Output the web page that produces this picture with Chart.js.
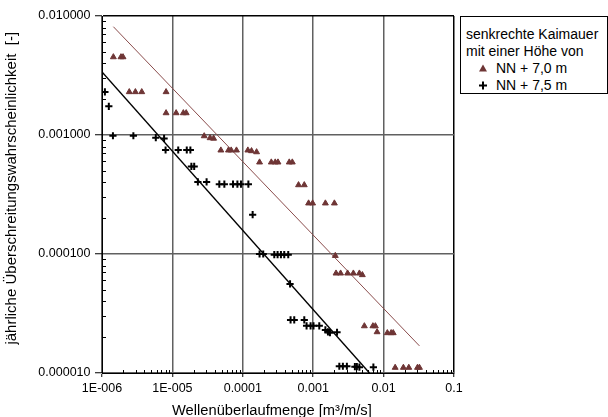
<!DOCTYPE html>
<html>
<head>
<meta charset="utf-8">
<script src="https://cdn.jsdelivr.net/npm/chart.js@4"></script>
<style>
  html, body { margin:0; padding:0; background:#fff; }
  #wrap { position:relative; width:608px; height:417px; }
  #legend { position:absolute; left:460px; top:16px; border:1px solid #000;
            font-family:'Liberation Sans', Arial, sans-serif; font-size:14px; line-height:17px; color:#000;
            padding:9px 0 0 5px; box-sizing:border-box; width:148px; height:78px; background:#fff; }
  .row { position:relative; height:17px; white-space:nowrap; }
  .mk { position:absolute; left:11px; top:0; width:12px; height:17px; }
  .txt { position:absolute; left:30px; top:0; }
</style>
</head>
<body>
<div id="wrap">
  <canvas id="c" width="608" height="417"></canvas>
  <div id="legend">
    <div class="row">senkrechte Kaimauer</div>
    <div class="row">mit einer Höhe von</div>
    <div class="row"><canvas class="mk" id="mk1" width="12" height="17"></canvas><span class="txt">NN + 7,0 m</span></div>
    <div class="row"><canvas class="mk" id="mk2" width="12" height="17"></canvas><span class="txt">NN + 7,5 m</span></div>
  </div>
</div>
<script>
// ---- data ----
const xTickLabels = ['1E-006', '1E-005', '0.0001', '0.001', '0.01', '0.1'];

// NN + 7,0 m (triangles)
const triX = [1.45e-6, 1.86e-6, 1.99e-6, 2.44e-6, 2.98e-6, 3.67e-6, 8.13e-6, 8.13e-6, 1.13e-5, 1.43e-5, 1.57e-5,
  2.83e-5, 3.43e-5, 3.85e-5, 4.88e-5, 6.26e-5, 6.84e-5, 8.13e-5, 1.18e-4, 1.33e-4, 1.57e-4,
  1.73e-4, 2.54e-4, 2.89e-4, 3.16e-4, 4.57e-4, 5.05e-4, 6.19e-4, 7.47e-4, 8.60e-4, 9.81e-4, 1.49e-3, 2.0e-3,
  2.06e-3, 2.11e-3, 2.45e-3, 3.08e-3, 3.72e-3, 4.53e-3, 4.99e-3, 5.33e-3, 7.05e-3, 7.64e-3, 8.08e-3,
  1.13e-2, 1.28e-2, 1.37e-2, 1.46e-2, 1.91e-2, 2.28e-2, 3.03e-2, 3.23e-2];
const triY = [4.52e-3, 4.52e-3, 4.52e-3, 2.30e-3, 2.30e-3, 2.30e-3, 2.30e-3, 1.53e-3, 1.53e-3, 1.53e-3, 1.53e-3,
  9.8e-4, 9.44e-4, 9.35e-4, 7.44e-4, 7.44e-4, 7.44e-4, 7.44e-4, 7.44e-4, 7.34e-4, 7.19e-4,
  5.90e-4, 5.90e-4, 5.90e-4, 5.90e-4, 5.90e-4, 5.90e-4, 3.80e-4, 3.80e-4, 2.67e-4, 2.67e-4, 2.67e-4, 2.67e-4,
  9.67e-5, 6.88e-5, 6.88e-5, 6.88e-5, 6.88e-5, 6.88e-5, 6.67e-5, 2.48e-5, 2.48e-5, 2.48e-5, 2.21e-5,
  2.17e-5, 2.17e-5, 2.17e-5, 1.11e-5, 1.11e-5, 1.11e-5, 1.11e-5, 1.11e-5];

// NN + 7,5 m (crosses)
const crossX = [1.10e-6, 1.25e-6, 1.43e-6, 2.79e-6, 5.81e-6, 7.62e-6, 8.0e-6, 1.21e-5, 1.60e-5, 1.80e-5,
  1.86e-5, 2.04e-5, 2.30e-5, 3.06e-5, 4.64e-5, 5.47e-5, 7.26e-5, 8.38e-5, 9.42e-5, 1.20e-4,
  1.38e-4, 1.73e-4, 1.95e-4, 2.80e-4, 3.12e-4, 3.48e-4, 3.88e-4, 4.42e-4, 4.69e-4,
  4.77e-4, 5.38e-4, 7.47e-4, 8.05e-4, 9.18e-4, 1.01e-3, 1.22e-3, 1.49e-3, 1.62e-3, 1.73e-3, 2.18e-3,
  2.35e-3, 2.64e-3, 3.01e-3, 3.91e-3, 4.17e-3, 4.53e-3, 7.16e-3];
const crossY = [2.30e-3, 1.74e-3, 9.86e-4, 9.86e-4, 9.49e-4, 9.35e-4, 7.48e-4, 7.48e-4, 7.48e-4, 7.48e-4,
  5.44e-4, 5.44e-4, 4.03e-4, 4.03e-4, 3.86e-4, 3.86e-4, 3.86e-4, 3.86e-4, 3.86e-4, 3.86e-4,
  2.14e-4, 1.0e-4, 1.0e-4, 9.87e-5, 9.87e-5, 9.87e-5, 9.87e-5, 9.87e-5, 5.60e-5,
  2.79e-5, 2.79e-5, 2.79e-5, 2.49e-5, 2.49e-5, 2.49e-5, 2.49e-5, 2.30e-5, 2.22e-5, 2.18e-5, 2.20e-5,
  1.14e-5, 1.14e-5, 1.14e-5, 1.13e-5, 1.13e-5, 1.12e-5, 1.12e-5];

// trend lines (endpoints)
const trendTriX = [1.45e-6, 3.23e-2];
const trendTriY = [8.13e-3, 1.69e-5];
const trendCrossX = [1.0e-6, 6.3e-3];
const trendCrossY = [3.38e-3, 1.0e-5];

const TRI_COLOR = '#6e3535';
const GRID_COLOR = '#606060';
const FONT = "'Liberation Sans', Arial, sans-serif";

const pts = (xs, ys) => xs.map((x, i) => ({ x: x, y: ys[i] }));
const isDecade = v => Math.abs(Math.log10(v) - Math.round(Math.log10(v))) < 1e-9;

const minorTicks = {
  id: 'minorTicks',
  afterDraw(chart) {
    const { ctx, chartArea: a, scales: { x, y } } = chart;
    ctx.save();
    ctx.strokeStyle = '#000';
    ctx.lineWidth = 1;
    ctx.beginPath();
    for (let d = -6; d < -1; d++) {
      for (let k = 2; k <= 9; k++) {
        const px = Math.round(x.getPixelForValue(k * Math.pow(10, d))) + 0.5;
        ctx.moveTo(px, a.bottom); ctx.lineTo(px, a.bottom - 3);
      }
    }
    for (let d = -5; d < -2; d++) {
      for (let k = 2; k <= 9; k++) {
        const py = Math.round(y.getPixelForValue(k * Math.pow(10, d))) + 0.5;
        ctx.moveTo(a.left, py); ctx.lineTo(a.left + 4, py);
      }
    }
    ctx.stroke();
    ctx.restore();
  }
};

new Chart(document.getElementById('c'), {
  type: 'scatter',
  data: {
    datasets: [
      { label: 'NN + 7,0 m', data: pts(triX, triY), pointStyle: 'triangle', pointRadius: 3.4, borderWidth: 1,
        backgroundColor: TRI_COLOR, borderColor: TRI_COLOR, showLine: false },
      { label: 'NN + 7,5 m', data: pts(crossX, crossY), pointStyle: 'cross', pointRadius: 3.6, borderWidth: 2,
        borderColor: '#000', backgroundColor: '#000', showLine: false },
      { label: 'trend 7,0', data: pts(trendTriX, trendTriY), showLine: true, pointRadius: 0, borderColor: '#8a4c4c',
        borderWidth: 1, fill: false },
      { label: 'trend 7,5', data: pts(trendCrossX, trendCrossY), showLine: true, pointRadius: 0, borderColor: '#000',
        borderWidth: 1.4, fill: false }
    ]
  },
  options: {
    responsive: false, animation: false, devicePixelRatio: 1,
    layout: { padding: { top: 16, right: 154, left: 0, bottom: 0 } },
    plugins: { legend: { display: false }, tooltip: { enabled: false } },
    scales: {
      x: {
        type: 'logarithmic', min: 1e-6, max: 0.1, position: 'bottom',
        afterBuildTicks: s => { s.ticks = s.ticks.filter(t => isDecade(t.value)); },
        afterFit: s => { s.height = 44; },
        ticks: {
          autoSkip: false, maxRotation: 0, padding: 4, color: '#000',
          font: { family: FONT, size: 12.5 },
          callback: v => xTickLabels[Math.round(Math.log10(v)) + 6]
        },
        grid: {
          color: c => (c.tick && Math.abs(c.tick.value - 0.1) < 1e-9) ? '#000' : GRID_COLOR,
          lineWidth: 1.5, tickLength: 4, tickColor: '#000', tickWidth: 1
        },
        border: { color: '#000', width: 1 },
        title: { display: true, text: 'Wellenüberlaufmenge [m³/m/s]   ', color: '#000',
          font: { family: FONT, size: 14.7, lineHeight: 0.86 }, padding: { top: 0, bottom: 0 } }
      },
      y: {
        type: 'logarithmic', min: 1e-5, max: 0.01,
        afterBuildTicks: s => { s.ticks = s.ticks.filter(t => isDecade(t.value)); },
        afterFit: s => { s.width = 102; },
        ticks: {
          autoSkip: false, padding: 4.5, color: '#000',
          font: { family: FONT, size: 12.5 },
          callback: v => Number(v).toFixed(6)
        },
        grid: {
          color: c => (c.tick && Math.abs(c.tick.value - 0.01) < 1e-12) ? '#000' : GRID_COLOR,
          lineWidth: 1.5, tickLength: 7, tickColor: '#000', tickWidth: 1
        },
        border: { color: '#000', width: 1 },
        title: { display: true, text: '   jährliche Überschreitungswahrscheinlichkeit  [-]', color: '#000',
          font: { family: FONT, size: 15, lineHeight: 1.2 }, padding: { top: 3, bottom: 0 } }
      }
    }
  },
  plugins: [minorTicks]
});

// legend markers
(function () {
  const m1 = document.getElementById('mk1').getContext('2d');
  m1.fillStyle = TRI_COLOR;
  m1.beginPath(); m1.moveTo(6, 4.5); m1.lineTo(10, 11.5); m1.lineTo(2, 11.5); m1.closePath(); m1.fill();
  const m2 = document.getElementById('mk2').getContext('2d');
  m2.strokeStyle = '#000'; m2.lineWidth = 2;
  m2.beginPath(); m2.moveTo(2, 8.5); m2.lineTo(10, 8.5); m2.moveTo(6, 4.5); m2.lineTo(6, 12.5); m2.stroke();
})();
</script>
</body>
</html>
